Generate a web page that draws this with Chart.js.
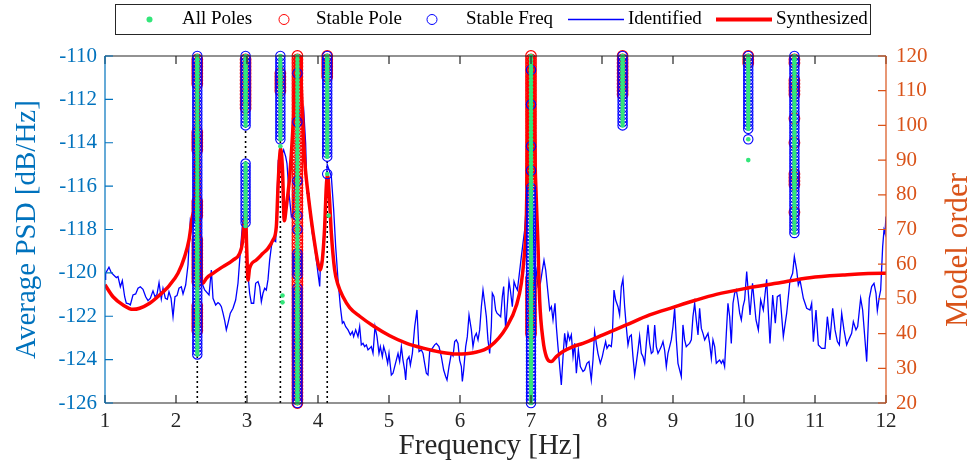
<!DOCTYPE html>
<html>
<head>
<meta charset="utf-8">
<title>Stabilization diagram</title>
<script src="https://cdn.jsdelivr.net/npm/chart.js@4.4.1/dist/chart.umd.min.js"></script>
<style>
  html, body { margin: 0; padding: 0; background: #fff; }
</style>
</head>
<body>
<canvas id="chart" width="974" height="465"></canvas>
<script>
// identified PSD (blue line)
const idFreq = [
  1.000, 1.009, 1.056, 1.089, 1.122, 1.160, 1.183, 1.216, 1.244, 1.277, 1.300, 1.338, 1.357, 1.394, 1.432, 1.465,
  1.498, 1.535, 1.573, 1.606, 1.639, 1.676, 1.704, 1.732, 1.761, 1.793, 1.817, 1.850, 1.878, 1.901, 1.930, 1.958,
  1.986, 2.014, 2.042, 2.075, 2.099, 2.136, 2.169, 2.202, 2.240, 2.268, 2.300, 2.333, 2.357, 2.404, 2.465, 2.498,
  2.521, 2.559, 2.592, 2.615, 2.639, 2.662, 2.686, 2.709, 2.732, 2.765, 2.803, 2.840, 2.873, 2.897, 2.934, 2.980,
  3.010, 3.037, 3.061, 3.094, 3.122, 3.155, 3.178, 3.202, 3.225, 3.249, 3.272, 3.296, 3.319, 3.343, 3.366, 3.404,
  3.422, 3.441, 3.460, 3.484, 3.516, 3.545, 3.563, 3.592, 3.625, 3.648, 3.690, 3.710, 3.750, 3.798, 3.826, 3.845,
  3.873, 3.892, 3.920, 3.953, 3.977, 4.000, 4.024, 4.033, 4.061, 4.094, 4.130, 4.188, 4.221, 4.249, 4.282, 4.315,
  4.343, 4.362, 4.390, 4.423, 4.456, 4.484, 4.502, 4.531, 4.563, 4.587, 4.610, 4.634, 4.657, 4.681, 4.704, 4.728,
  4.751, 4.775, 4.803, 4.831, 4.859, 4.878, 4.906, 4.925, 4.953, 4.981, 5.000, 5.033, 5.056, 5.080, 5.103, 5.127,
  5.150, 5.174, 5.197, 5.221, 5.235, 5.254, 5.282, 5.301, 5.329, 5.362, 5.394, 5.423, 5.455, 5.479, 5.502, 5.526,
  5.549, 5.573, 5.610, 5.643, 5.667, 5.704, 5.737, 5.770, 5.798, 5.817, 5.845, 5.878, 5.902, 5.925, 5.948, 5.972,
  5.995, 6.019, 6.033, 6.052, 6.080, 6.103, 6.127, 6.160, 6.183, 6.207, 6.230, 6.254, 6.277, 6.301, 6.324, 6.348,
  6.371, 6.394, 6.418, 6.441, 6.455, 6.479, 6.502, 6.521, 6.549, 6.573, 6.596, 6.615, 6.643, 6.662, 6.690, 6.709,
  6.737, 6.761, 6.784, 6.808, 6.831, 6.864, 6.887, 6.911, 6.960, 7.000, 7.030, 7.052, 7.075, 7.099, 7.132, 7.160,
  7.183, 7.207, 7.235, 7.263, 7.287, 7.310, 7.338, 7.357, 7.380, 7.404, 7.427, 7.451, 7.474, 7.498, 7.521, 7.545,
  7.568, 7.592, 7.615, 7.639, 7.667, 7.695, 7.732, 7.755, 7.788, 7.817, 7.849, 7.873, 7.896, 7.920, 7.943, 7.976,
  8.004, 8.023, 8.051, 8.070, 8.098, 8.131, 8.145, 8.169, 8.192, 8.225, 8.248, 8.272, 8.295, 8.319, 8.342, 8.366,
  8.389, 8.413, 8.436, 8.460, 8.483, 8.507, 8.530, 8.554, 8.577, 8.601, 8.624, 8.648, 8.671, 8.695, 8.718, 8.742,
  8.765, 8.789, 8.812, 8.835, 8.859, 8.882, 8.906, 8.929, 8.953, 8.976, 9.000, 9.023, 9.047, 9.070, 9.094, 9.117,
  9.140, 9.164, 9.187, 9.211, 9.234, 9.258, 9.281, 9.305, 9.328, 9.352, 9.375, 9.399, 9.422, 9.446, 9.469, 9.493,
  9.516, 9.540, 9.563, 9.587, 9.610, 9.634, 9.657, 9.681, 9.704, 9.727, 9.751, 9.774, 9.798, 9.821, 9.845, 9.868,
  9.892, 9.915, 9.939, 9.962, 9.986, 10.009, 10.038, 10.085, 10.120, 10.169, 10.202, 10.235, 10.272, 10.319, 10.366, 10.404,
  10.441, 10.469, 10.507, 10.554, 10.601, 10.648, 10.685, 10.709, 10.742, 10.765, 10.789, 10.836, 10.883, 10.930, 10.953, 10.977,
  11.014, 11.047, 11.094, 11.141, 11.174, 11.211, 11.249, 11.282, 11.315, 11.343, 11.376, 11.408, 11.446, 11.484, 11.516, 11.540,
  11.577, 11.601, 11.643, 11.671, 11.704, 11.728, 11.765, 11.798, 11.831, 11.859, 11.878, 11.906, 11.925, 11.953, 11.972, 11.985,
  12.000
];
const idPsd = [
  -120.30, -120.02, -119.74, -119.99, -120.10, -120.22, -120.17, -120.64, -120.36, -121.10, -121.40, -121.43, -121.48, -121.02, -120.97, -120.71,
  -120.64, -120.76, -121.10, -121.28, -121.17, -120.83, -121.10, -120.99, -120.45, -121.20, -120.71, -121.17, -121.22, -120.87, -121.17, -122.02,
  -121.10, -121.05, -120.71, -120.64, -120.97, -120.56, -119.64, -117.56, -117.87, -117.41, -114.80, -119.87, -120.40, -120.79, -121.02, -119.87,
  -121.17, -121.48, -121.37, -121.43, -121.56, -121.86, -122.20, -122.63, -122.33, -121.86, -121.63, -121.25, -120.48, -119.41, -117.87, -116.80,
  -119.90, -120.94, -121.40, -121.40, -120.48, -120.40, -120.64, -121.33, -120.94, -120.71, -120.79, -120.30, -119.41, -118.79, -118.48, -118.56,
  -116.64, -114.79, -115.26, -114.64, -114.33, -114.64, -114.95, -116.33, -117.41, -117.25, -114.50, -111.50, -113.00, -112.46, -114.03, -116.33,
  -116.33, -117.41, -118.18, -118.79, -119.41, -120.02, -120.63, -119.71, -119.25, -117.56, -115.00, -115.56, -117.10, -118.79, -120.33, -121.56,
  -122.32, -122.25, -122.48, -122.63, -122.86, -122.71, -122.94, -122.63, -122.94, -122.48, -123.32, -123.25, -123.40, -123.32, -123.55, -123.48,
  -123.40, -123.71, -122.48, -122.94, -123.71, -123.40, -123.86, -123.40, -123.71, -124.17, -123.71, -124.71, -124.63, -124.32, -124.02, -123.71,
  -124.09, -123.40, -124.02, -124.48, -124.94, -124.02, -123.86, -124.25, -123.71, -122.48, -121.71, -123.63, -123.55, -123.71, -124.17, -124.63,
  -124.71, -123.63, -123.48, -123.32, -123.25, -123.40, -123.86, -124.48, -124.78, -124.94, -124.32, -123.71, -123.83, -123.17, -123.09, -123.25,
  -124.02, -124.32, -125.01, -124.48, -123.40, -122.94, -121.94, -122.63, -123.40, -122.94, -122.79, -123.09, -122.63, -121.56, -120.79, -121.40,
  -122.02, -123.09, -123.71, -122.48, -120.94, -121.10, -121.71, -121.86, -121.94, -122.02, -121.10, -120.63, -122.63, -121.71, -120.40, -120.79,
  -121.56, -120.40, -120.63, -120.79, -120.17, -119.25, -118.64, -118.02, -115.50, -114.60, -117.50, -120.63, -119.94, -120.63, -120.48, -119.87,
  -119.41, -119.87, -120.79, -121.71, -121.56, -122.17, -121.40, -122.48, -123.40, -124.32, -125.17, -123.86, -122.79, -123.40, -122.79, -123.09,
  -122.86, -123.86, -123.25, -124.63, -123.55, -124.32, -124.55, -124.48, -124.17, -124.09, -124.94, -124.02, -122.71, -123.25, -123.71, -124.17,
  -123.86, -123.56, -123.17, -123.48, -123.32, -123.40, -122.94, -120.79, -121.25, -121.56, -121.94, -120.63, -120.28, -121.56, -122.48, -123.32,
  -122.94, -122.86, -123.86, -124.71, -124.17, -123.56, -122.91, -123.71, -123.86, -124.17, -123.25, -122.40, -123.25, -123.71, -123.63, -122.40,
  -123.40, -123.71, -123.56, -123.40, -123.17, -123.56, -124.32, -123.71, -123.40, -123.09, -122.48, -121.63, -123.09, -124.17, -124.48, -124.78,
  -122.40, -123.09, -123.40, -123.32, -123.25, -123.09, -122.02, -121.40, -122.17, -122.86, -121.63, -122.56, -122.79, -123.09, -122.94, -122.79,
  -123.25, -123.94, -123.09, -123.40, -124.17, -124.09, -124.02, -124.17, -124.02, -124.32, -122.79, -121.40, -122.02, -123.25, -121.40, -120.94,
  -120.79, -121.25, -121.86, -122.17, -121.56, -121.25, -119.94, -121.94, -120.48, -122.17, -122.63, -121.25, -121.71, -120.30, -123.25, -121.02,
  -122.32, -121.10, -121.02, -122.94, -121.86, -120.33, -120.02, -119.25, -119.87, -120.56, -120.33, -121.17, -121.63, -121.71, -121.40, -123.17,
  -121.71, -123.32, -123.48, -123.48, -122.02, -123.09, -121.63, -122.63, -123.17, -123.32, -121.86, -122.63, -123.32, -123.02, -122.79, -122.25,
  -122.63, -122.48, -121.17, -121.71, -123.09, -124.09, -121.17, -120.63, -120.48, -120.94, -121.74, -121.10, -120.79, -118.79, -118.02, -118.17,
  -117.40
];

// synthesized PSD (red line)
const synFreq = [
  1.000, 1.113, 1.254, 1.394, 1.488, 1.629, 1.770, 1.911, 2.028, 2.122, 2.183, 2.230, 2.263, 2.285, 2.300, 2.320,
  2.357, 2.380, 2.427, 2.521, 2.662, 2.803, 2.897, 2.934, 2.955, 2.980, 2.995, 3.014, 3.037, 3.131, 3.225, 3.296,
  3.366, 3.413, 3.437, 3.460, 3.475, 3.500, 3.525, 3.554, 3.601, 3.648, 3.671, 3.710, 3.750, 3.779, 3.812, 3.859,
  3.906, 3.953, 4.000, 4.033, 4.061, 4.094, 4.117, 4.135, 4.160, 4.188, 4.235, 4.282, 4.352, 4.446, 4.587, 4.780,
  5.010, 5.250, 5.480, 5.720, 5.950, 6.190, 6.420, 6.660, 6.800, 6.864, 6.900, 6.934, 6.960, 7.000, 7.050, 7.099,
  7.122, 7.169, 7.216, 7.286, 7.357, 7.451, 7.592, 7.732, 8.014, 8.342, 8.671, 9.000, 9.328, 9.610, 10.033, 10.455,
  10.925, 11.394, 11.958, 12.000
];
const synPsd = [
  -120.55, -121.10, -121.48, -121.68, -121.63, -121.40, -121.02, -120.56, -120.02, -119.25, -118.48, -117.41, -116.64, -113.50, -106.00, -115.00,
  -120.40, -120.48, -120.25, -120.02, -119.71, -119.41, -119.10, -118.64, -117.87, -117.30, -118.80, -120.33, -119.79, -119.41, -119.10, -118.87,
  -118.48, -117.87, -116.02, -114.64, -114.26, -115.26, -117.60, -116.95, -115.56, -113.26, -111.72, -104.00, -110.00, -112.49, -114.79, -116.33,
  -117.56, -118.64, -119.56, -119.87, -119.41, -117.87, -116.02, -115.50, -116.50, -118.18, -119.87, -120.55, -121.10, -121.60, -122.00, -122.45,
  -122.90, -123.25, -123.47, -123.65, -123.74, -123.68, -123.40, -122.48, -121.45, -120.48, -119.40, -117.56, -113.00, -104.00, -114.00, -118.80,
  -121.25, -123.09, -123.86, -124.09, -123.86, -123.63, -123.40, -123.25, -122.86, -122.40, -121.94, -121.59, -121.25, -120.99, -120.71, -120.48,
  -120.22, -120.10, -120.02, -120.02
];

// stabilization columns: [frequency, first model order, last model order]
const stableFreqCols = [
  [2.30, 34, 120], [2.98, 100, 120], [2.98, 72, 89], [3.47, 96, 120],
  [3.71, 20, 53], [3.71, 57, 63], [3.71, 70, 70], [3.71, 74, 74], [3.71, 84, 84], [3.71, 101, 101], [3.71, 115, 115],
  [4.13, 91, 120], [4.13, 86, 86],
  [7.00, 20, 82], [7.00, 87, 87], [7.00, 94, 94], [7.00, 106, 106], [7.00, 116, 116],
  [8.29, 100, 120], [10.06, 99, 120], [10.06, 96, 96], [10.71, 69, 120]
];
const stablePoleCols = [
  [2.30, 112, 119], [2.30, 93, 98], [2.30, 74, 78], [2.30, 55, 67], [2.30, 41, 48],
  [2.98, 105, 119], [3.47, 110, 115], [3.71, 20, 120], [4.13, 114, 120],
  [7.00, 40, 56], [7.00, 83, 120], [8.29, 109, 120], [10.06, 118, 120],
  [10.71, 118, 119], [10.71, 109, 113], [10.71, 102, 102], [10.71, 95, 95], [10.71, 83, 86], [10.71, 75, 75]
];
// poles that are neither stable in freq nor pole
const loosePoles = [[2.98, 71], [3.47, 94], [3.50, 51], [3.50, 49], [4.15, 74], [10.06, 90]];
// dotted markers for the picked modes
const pickedFreqs = [2.30, 2.98, 3.47, 4.13];

const xTicks = [1, 12, 1];
const psdTicks = [-126, -110, 2];
const orderTicks = [20, 120, 10];

const SERIF = "'Liberation Serif', 'Times New Roman', serif";
const BLUE_AX = '#0072BD';
const ORANGE_AX = '#D95319';
const GREEN = '#33E67A';

function columnPoints(cols) {
  const pts = [];
  cols.forEach(([f, lo, hi]) => {
    for (let o = lo; o <= hi; o++) pts.push({ x: f, y: o });
  });
  return pts;
}

const bluePts = columnPoints(stableFreqCols);
const redPts = columnPoints(stablePoleCols);
const greenPts = bluePts.concat(redPts, loosePoles.map(([f, o]) => ({ x: f, y: o })));

const dottedSets = pickedFreqs.map(f => ({
  type: 'line',
  data: [{ x: f, y: orderTicks[0] }, { x: f, y: orderTicks[1] }],
  yAxisID: 'y2',
  borderColor: '#000',
  borderWidth: 1.6,
  borderDash: [2, 3],
  pointRadius: 0,
  order: 7
}));

const frameAndLabels = {
  id: 'frameAndLabels',
  afterDraw(chart) {
    const { ctx, chartArea: a, scales } = chart;
    const tick = 8;
    ctx.save();
    ctx.lineWidth = 1.2;

    // top / bottom frame and x ticks
    ctx.strokeStyle = '#262626';
    ctx.beginPath();
    ctx.moveTo(a.left, a.top); ctx.lineTo(a.right, a.top);
    ctx.moveTo(a.left, a.bottom); ctx.lineTo(a.right, a.bottom);
    scales.x.ticks.forEach(t => {
      const px = scales.x.getPixelForValue(t.value);
      ctx.moveTo(px, a.bottom); ctx.lineTo(px, a.bottom - tick);
      ctx.moveTo(px, a.top); ctx.lineTo(px, a.top + tick);
    });
    ctx.stroke();

    // left axis
    ctx.strokeStyle = BLUE_AX;
    ctx.beginPath();
    ctx.moveTo(a.left, a.top); ctx.lineTo(a.left, a.bottom);
    scales.y.ticks.forEach(t => {
      const py = scales.y.getPixelForValue(t.value);
      ctx.moveTo(a.left, py); ctx.lineTo(a.left + tick, py);
    });
    ctx.stroke();

    // right axis
    ctx.strokeStyle = ORANGE_AX;
    ctx.beginPath();
    ctx.moveTo(a.right, a.top); ctx.lineTo(a.right, a.bottom);
    scales.y2.ticks.forEach(t => {
      const py = scales.y2.getPixelForValue(t.value);
      ctx.moveTo(a.right, py); ctx.lineTo(a.right - tick, py);
    });
    ctx.stroke();

    // axis titles
    ctx.textAlign = 'center';
    ctx.textBaseline = 'middle';
    ctx.font = '29px ' + SERIF;
    ctx.fillStyle = '#262626';
    ctx.fillText('Frequency [Hz]', 490, 446);

    ctx.save();
    ctx.translate(27, (a.top + a.bottom) / 2);
    ctx.rotate(-Math.PI / 2);
    ctx.fillStyle = BLUE_AX;
    ctx.fillText('Average PSD [dB/Hz]', 0, 0);
    ctx.restore();

    ctx.save();
    ctx.translate(959, 250);
    ctx.rotate(-Math.PI / 2);
    ctx.font = '31px ' + SERIF;
    ctx.fillStyle = ORANGE_AX;
    ctx.fillText('Model order', 0, 0);
    ctx.restore();

    // legend
    ctx.fillStyle = '#fff';
    ctx.fillRect(115, 4, 755, 30);
    ctx.strokeStyle = '#262626';
    ctx.lineWidth = 1;
    ctx.strokeRect(115.5, 4.5, 755, 30);
    const ly = 19.5;
    ctx.font = '19px ' + SERIF;
    ctx.textAlign = 'left';
    ctx.fillStyle = '#000';

    ctx.beginPath(); ctx.fillStyle = GREEN; ctx.arc(149.5, ly, 3, 0, Math.PI * 2); ctx.fill();
    ctx.fillStyle = '#000'; ctx.fillText('All Poles', 182, ly);

    ctx.beginPath(); ctx.strokeStyle = '#f00'; ctx.arc(284, ly, 5, 0, Math.PI * 2); ctx.stroke();
    ctx.fillText('Stable Pole', 316, ly);

    ctx.beginPath(); ctx.strokeStyle = '#00f'; ctx.arc(432, ly, 5, 0, Math.PI * 2); ctx.stroke();
    ctx.fillText('Stable Freq', 466, ly);

    ctx.beginPath(); ctx.strokeStyle = '#00f'; ctx.lineWidth = 1.3;
    ctx.moveTo(568, ly); ctx.lineTo(624, ly); ctx.stroke();
    ctx.fillText('Identified', 628, ly);

    ctx.beginPath(); ctx.strokeStyle = '#f00'; ctx.lineWidth = 4;
    ctx.moveTo(716, ly); ctx.lineTo(772, ly); ctx.stroke();
    ctx.fillText('Synthesized', 776, ly);

    ctx.restore();
  }
};

Chart.defaults.font.family = SERIF;

new Chart(document.getElementById('chart'), {
  data: {
    datasets: [
      {
        type: 'scatter', label: 'All Poles', data: greenPts, yAxisID: 'y2',
        pointRadius: 2.3, pointBackgroundColor: GREEN, pointBorderWidth: 0, clip: false, order: 1
      },
      {
        type: 'scatter', label: 'Stable Freq', data: bluePts, yAxisID: 'y2',
        pointRadius: 4.7, pointBorderColor: '#0000FF', pointBackgroundColor: 'rgba(0,0,0,0)', pointBorderWidth: 1.1,
        clip: false, order: 2
      },
      {
        type: 'scatter', label: 'Stable Pole', data: redPts, yAxisID: 'y2',
        pointRadius: 5.3, pointBorderColor: '#FF0000', pointBackgroundColor: 'rgba(0,0,0,0)', pointBorderWidth: 1.2,
        clip: false, order: 3
      },
      {
        type: 'line', label: 'Synthesized', yAxisID: 'y',
        data: synFreq.map((f, i) => ({ x: f, y: synPsd[i] })),
        borderColor: '#FF0000', borderWidth: 3.5, pointRadius: 0, cubicInterpolationMode: 'monotone', order: 4
      },
      {
        type: 'line', label: 'Identified', yAxisID: 'y',
        data: idFreq.map((f, i) => ({ x: f, y: idPsd[i] })),
        borderColor: '#0000FF', borderWidth: 1.3, pointRadius: 0, order: 5
      },
      ...dottedSets
    ]
  },
  options: {
    responsive: false,
    animation: false,
    devicePixelRatio: 1,
    layout: { padding: { top: 56, left: 0, right: 0, bottom: 0 } },
    plugins: { legend: { display: false }, tooltip: { enabled: false } },
    scales: {
      x: {
        type: 'linear', min: xTicks[0], max: xTicks[1],
        ticks: { stepSize: xTicks[2], color: '#262626', font: { size: 21 }, padding: 6, maxRotation: 0 },
        grid: { display: false, drawTicks: false },
        border: { display: false },
        afterFit: s => { s.height = 62; }
      },
      y: {
        type: 'linear', position: 'left', min: psdTicks[0], max: psdTicks[1],
        ticks: { stepSize: psdTicks[2], color: BLUE_AX, font: { size: 21 }, padding: 8 },
        grid: { display: false, drawTicks: false },
        border: { display: false },
        afterFit: s => { s.width = 105; }
      },
      y2: {
        type: 'linear', position: 'right', min: orderTicks[0], max: orderTicks[1],
        ticks: { stepSize: orderTicks[2], color: ORANGE_AX, font: { size: 21 }, padding: 10 },
        grid: { display: false, drawTicks: false },
        border: { display: false },
        afterFit: s => { s.width = 88; }
      }
    }
  },
  plugins: [frameAndLabels]
});
</script>
</body>
</html>
